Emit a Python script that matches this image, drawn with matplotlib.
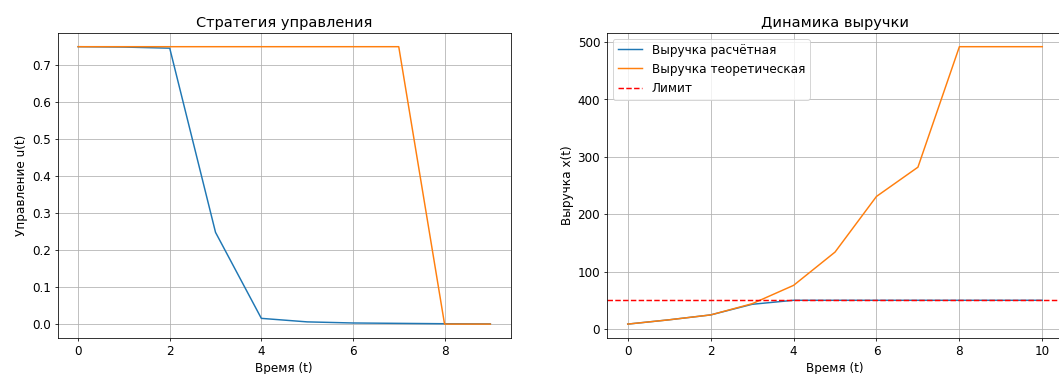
import numpy as np
import matplotlib
matplotlib.use("Agg")
import matplotlib.pyplot as plt

plt.rcParams['font.size'] = 12.3

# control strategy u(t)
t_u = [0, 1, 2, 3, 4, 5, 6, 7, 8, 9]
u_calc = [0.75, 0.749, 0.746, 0.248, 0.0155, 0.006, 0.003, 0.002, 0.001, 0.0005]
u_theor = [0.75, 0.75, 0.75, 0.75, 0.75, 0.75, 0.75, 0.75, 0.0, 0.0]

# revenue x(t)
t_x = [0, 1, 2, 3, 4, 5, 6, 7, 8, 9, 10]
x_calc = [8.5, 16, 24.5, 43, 50, 50, 50, 50, 50, 50, 50]
x_theor = [8.5, 16, 24.5, 44, 76, 134, 231, 282, 492, 492, 492]
limit = 50

fig = plt.figure(figsize=(15, 5.3), dpi=70.6)
ax1 = fig.add_axes([0.0543, 0.0963, 0.4282, 0.8155])
ax2 = fig.add_axes([0.5732, 0.0963, 0.4306, 0.8155])

ax1.plot(t_u, u_calc, color='C0')
ax1.plot(t_u, u_theor, color='C1')
ax1.set_title('Стратегия управления')
ax1.set_xlabel('Время (t)')
ax1.set_ylabel('Управление u(t)')
ax1.grid(True)

ax2.plot(t_x, x_calc, color='C0', label='Выручка расчётная')
ax2.plot(t_x, x_theor, color='C1', label='Выручка теоретическая')
ax2.axhline(limit, color='r', ls='--', label='Лимит')
ax2.set_title('Динамика выручки')
ax2.set_xlabel('Время (t)')
ax2.set_ylabel('Выручка x(t)')
ax2.legend(loc='upper left')
ax2.grid(True)

fig.savefig('out.png', dpi=70.6)
